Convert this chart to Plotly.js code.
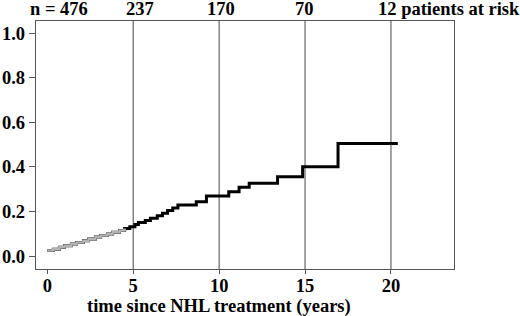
<!DOCTYPE html>
<html>
<head>
<meta charset="utf-8">
<script src="https://cdn.plot.ly/plotly-3.0.1.min.js"></script>
<style>html,body{margin:0;padding:0;background:#fff;}#chart{width:520px;height:316px;}</style>
</head>
<body>
<div id="chart"></div>
<script>
// Cumulative incidence step function (years since NHL treatment)
const times = [0, 0.35, 0.7, 1.0, 1.4, 1.7, 2.1, 2.4, 2.8, 3.1, 3.5, 3.8, 4.2, 4.5, 4.8, 5.1, 5.3, 5.7, 6.0, 6.4, 6.7, 7.0, 7.3, 7.6, 8.67, 9.26, 10.56, 11.16, 11.75, 13.4, 14.86, 16.92, 20.4];
const cuminc = [0.025, 0.031, 0.039, 0.046, 0.054, 0.061, 0.069, 0.077, 0.085, 0.092, 0.099, 0.107, 0.115, 0.124, 0.132, 0.142, 0.150, 0.159, 0.170, 0.181, 0.192, 0.204, 0.215, 0.229, 0.243, 0.269, 0.288, 0.308, 0.326, 0.356, 0.400, 0.505, 0.505];
const greyUntil = 4.5; // early part drawn with grey censoring marks
const riskTimes = [0, 5, 10, 15, 20];
const riskCounts = [476, 237, 170, 70, 12];
const xTicks = [0, 5, 10, 15, 20];
const yTicks = [0, 0.2, 0.4, 0.6, 0.8, 1.0];
const xTitle = 'time since NHL treatment (years)';

const FONT = 'Liberation Serif, Times New Roman, serif';
const FS = 18.5;
const greyIdx = times.filter(t => t <= greyUntil).length;

const traces = [
  {x: times, y: cuminc, type: 'scatter', mode: 'lines', line: {shape: 'hv', color: '#000', width: 3}, hoverinfo: 'skip'},
  {x: times.slice(0, greyIdx), y: cuminc.slice(0, greyIdx), type: 'scatter', mode: 'lines', line: {shape: 'hv', color: '#b4b4b4', width: 2.5}, hoverinfo: 'skip'}
];

const riskText = riskCounts.map((n, i) => i === 0 ? 'n = ' + n : (i === riskCounts.length - 1 ? n + ' patients at risk' : String(n)));
const riskAnchor = ['left', 'center', 'center', 'center', 'left'];
const riskShift = [-19, 7, 2, -1, -15];
const annotations = riskTimes.map((t, i) => ({
  x: t, xref: 'x', y: 1.048, yref: 'paper',
  text: riskText[i], showarrow: false,
  xanchor: riskAnchor[i], yanchor: 'middle',
  xshift: riskShift[i],
  font: {family: FONT, size: FS, color: '#000', weight: 'bold'}
}));
annotations.push({
  x: (xTicks[0] + xTicks[xTicks.length - 1]) / 2, xref: 'x', y: -0.152, yref: 'paper',
  text: xTitle, showarrow: false, xanchor: 'center', yanchor: 'middle',
  font: {family: FONT, size: FS, color: '#000', weight: 'bold'}
});

const shapes = riskTimes.slice(1).map(t => ({
  type: 'line', xref: 'x', yref: 'paper', x0: t, x1: t, y0: 0, y1: 1,
  line: {color: '#666', width: 1.2}, layer: 'below'
}));

const layout = {
  width: 520, height: 316,
  margin: {l: 36, r: 66, t: 21, b: 47, pad: 0},
  paper_bgcolor: '#fff', plot_bgcolor: '#fff',
  showlegend: false,
  font: {family: FONT, size: FS, color: '#000', weight: 'bold'},
  xaxis: {
    range: [-0.66, 23.67], tickvals: xTicks, ticktext: xTicks.map(String),
    showgrid: false, zeroline: false,
    showline: true, mirror: true, linecolor: '#555', linewidth: 1.2,
    ticks: 'outside', ticklen: 4, tickcolor: '#555', tickwidth: 1,
    ticklabelstandoff: -4,
    tickfont: {family: FONT, size: FS, color: '#000', weight: 'bold'}
  },
  yaxis: {
    range: [-0.058, 1.054], tickvals: yTicks, ticktext: yTicks.map(v => v.toFixed(1)),
    showgrid: false, zeroline: false,
    showline: true, mirror: true, linecolor: '#555', linewidth: 1.2,
    ticks: 'outside', ticklen: 6, tickcolor: '#555', tickwidth: 1,
    tickfont: {family: FONT, size: FS, color: '#000', weight: 'bold'}
  },
  annotations: annotations,
  shapes: shapes
};

Plotly.newPlot('chart', traces, layout, {staticPlot: true, displayModeBar: false});
</script>
</body>
</html>
